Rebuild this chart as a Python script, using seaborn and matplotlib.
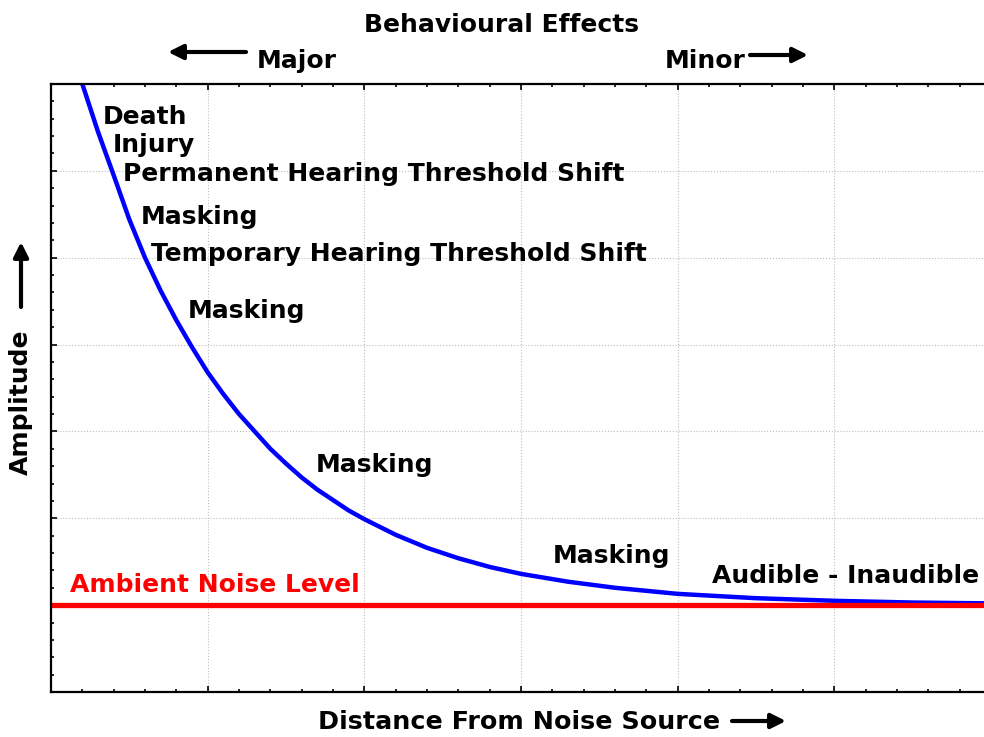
import matplotlib
matplotlib.use('Agg')
import matplotlib.pyplot as plt
import seaborn as sns
import pandas as pd

# Curve (distance units, amplitude units)
distance = [0.20, 0.30, 0.40, 0.50, 0.60, 0.70, 0.80, 0.90, 1.00, 1.10, 1.20,
            1.30, 1.40, 1.50, 1.60, 1.70, 1.80, 1.90, 2.00, 2.20, 2.40, 2.60,
            2.80, 3.00, 3.30, 3.60, 4.00, 4.50, 5.00, 5.50, 6.00]
amplitude = [7.00, 6.45, 5.95, 5.44, 5.00, 4.62, 4.28, 3.97, 3.68, 3.43, 3.20,
             3.00, 2.80, 2.63, 2.47, 2.33, 2.21, 2.09, 1.99, 1.81, 1.66, 1.54,
             1.44, 1.36, 1.27, 1.20, 1.13, 1.08, 1.05, 1.03, 1.02]
ambient_level = 1.0

effect_labels = ['Death', 'Injury', 'Permanent Hearing Threshold Shift', 'Masking',
                 'Temporary Hearing Threshold Shift', 'Masking', 'Masking', 'Masking',
                 'Audible - Inaudible']

sns.set_theme(style='white')
plt.rcParams['font.family'] = ['DejaVu Sans']
plt.rcParams['font.weight'] = 'bold'
plt.rcParams['text.color'] = 'black'

W, H = 984, 737
fig = plt.figure(figsize=(W / 100, H / 100), dpi=100)
# axes: left 51px, bottom 692px, top 84px, right beyond figure edge
ax = fig.add_axes([51 / W, (H - 692) / H, 940 / W, (692 - 84) / H])

df = pd.DataFrame({'distance': distance, 'amplitude': amplitude})
sns.lineplot(data=df, x='distance', y='amplitude', ax=ax, color='#0000ff', lw=3.2, sort=True)
ax.axhline(ambient_level, color='#ff0000', lw=3.8)

ax.set_xlim(0, 6)
ax.set_ylim(0, 7)
ax.set_xticks(range(0, 7))
ax.set_yticks(range(0, 8))
ax.set_xticks([i * 0.2 for i in range(31)], minor=True)
ax.set_yticks([i * 0.2 for i in range(36)], minor=True)
ax.set_xticklabels([])
ax.set_yticklabels([])
ax.set_xlabel('')
ax.set_ylabel('')
ax.tick_params(which='both', direction='in', top=True, bottom=True, left=True, right=False,
               color='black', width=1.2)
ax.tick_params(which='major', length=4)
ax.tick_params(which='minor', length=2.5)
ax.grid(which='major', color='#bdbdbd', linestyle=':', lw=0.8)
for side in ['left', 'bottom', 'top']:
    ax.spines[side].set_color('black')
    ax.spines[side].set_linewidth(1.6)
ax.spines['right'].set_visible(False)

# label positions in pixels (left, baseline)
label_px = [(103, 123), (113, 151), (123, 180), (141, 223), (151, 260),
            (188, 317), (316, 472), (553, 563), (712, 583)]
for txt, (px, py) in zip(effect_labels, label_px):
    ax.text((px - 51) / 156.7, (692 - py) / 87, txt, fontsize=18, fontweight='bold',
            ha='left', va='baseline', color='black')
ax.text((70 - 51) / 156.7, (692 - 592) / 87, 'Ambient Noise Level', fontsize=18,
        fontweight='bold', ha='left', va='baseline', color='#ff0000')

# outer texts
fig.text(501 / W, 1 - 32 / H, 'Behavioural Effects', fontsize=18, fontweight='bold',
         ha='center', va='baseline')
fig.text(257 / W, 1 - 68 / H, 'Major', fontsize=18, fontweight='bold', ha='left', va='baseline')
fig.text(665 / W, 1 - 68 / H, 'Minor', fontsize=18, fontweight='bold', ha='left', va='baseline')
fig.text(318 / W, 1 - 729 / H, 'Distance From Noise Source', fontsize=18.3, fontweight='bold',
         ha='left', va='baseline')
fig.text(21 / W, 1 - 402 / H, 'Amplitude', fontsize=18, fontweight='bold', rotation=90,
         ha='center', va='center')

arrow = dict(arrowstyle='-|>', lw=3, color='black', mutation_scale=22, shrinkA=0, shrinkB=0)
arrows = [((246, 52), (168, 52)), ((750, 55), (808, 55)),
          ((732, 721), (786, 721)), ((21, 307), (21, 242))]
for (x0, y0), (x1, y1) in arrows:
    ax.annotate('', xy=(x1, H - y1), xytext=(x0, H - y0), xycoords='figure pixels',
                textcoords='figure pixels', arrowprops=arrow, annotation_clip=False)

fig.savefig('out.png', dpi=100)
